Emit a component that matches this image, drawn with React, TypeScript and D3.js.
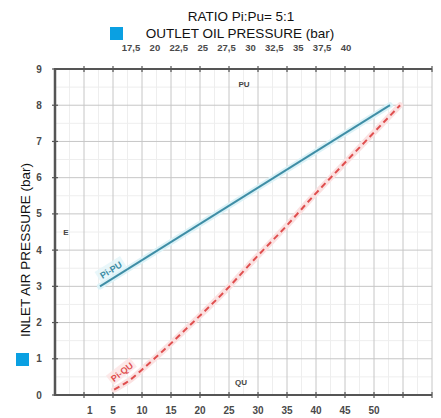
import React from 'react';
import * as d3 from 'd3';

const W = 441;
const H = 418;

const yTicks = [0, 1, 2, 3, 4, 5, 6, 7, 8, 9];
const bottomLabels = [1, 5, 10, 15, 20, 25, 30, 35, 40, 45, 50];
const topLabels = [17.5, 20, 22.5, 25, 27.5, 30, 32.5, 35, 37.5, 40];

// Pi-PU line (outlet oil pressure vs inlet air pressure)
const puValues = [15, 40];
const piForPu = [3, 8];

// Pi-QU curve (oil flow vs inlet air pressure)
const quValues = [5.2, 7.8, 10.7, 13.5, 18.1, 24.5, 29.7, 34.8, 39.3, 44.5, 49.7, 54.5];
const piForQu = [0.15, 0.4, 0.8, 1.2, 1.9, 2.9, 3.8, 4.65, 5.45, 6.33, 7.2, 8.0];

const gridCount = 13;

const fmtComma = (v: number) => String(v).replace('.', ',');

export default function App() {
  const left = 55, right = 432, top = 69, bottom = 395;
  const y = d3.scaleLinear().domain([0, 9]).range([bottom, top]);
  const gx = d3.scaleLinear().domain([0, gridCount]).range([left, right]);
  const qu = d3.scaleLinear().domain([0, 50]).range([gx(1), gx(11)]);
  const pu = d3.scaleLinear().domain([15, 40]).range([100, 390]);
  const topLabelScale = d3.scaleLinear().domain([17.5, 40]).range([131, 346]);

  const gridIdx = d3.range(0, gridCount + 1);
  const minorX = d3.range(0.5, gridCount, 1);
  const minorY = d3.range(0.5, 9, 1);

  const puPts: [number, number][] = puValues.map((v, i) => [pu(v), y(piForPu[i])]);
  const quPts: [number, number][] = quValues.map((v, i) => [qu(v), y(piForQu[i])]);
  const lineGen = d3.line<[number, number]>().x(d => d[0]).y(d => d[1]);
  const curveGen = d3.line<[number, number]>().x(d => d[0]).y(d => d[1]).curve(d3.curveMonotoneX);
  const puPath = lineGen(puPts) || '';
  const quPath = curveGen(quPts) || '';

  const puAngle = (Math.atan2(puPts[1][1] - puPts[0][1], puPts[1][0] - puPts[0][0]) * 180) / Math.PI;
  const numFont = "'Liberation Sans', Arial, sans-serif";
  const labelColor = '#4a4a4a';

  return (
    <svg width={W} height={H} style={{ position: 'absolute', left: 0, top: 0, background: '#fff' }}>
      {/* minor grid */}
      {minorX.map(i => (
        <line key={'mx' + i} x1={gx(i)} x2={gx(i)} y1={top} y2={bottom} stroke="#eeeeee" strokeWidth={1} />
      ))}
      {minorY.map(v => (
        <line key={'my' + v} x1={left} x2={right} y1={y(v)} y2={y(v)} stroke="#eeeeee" strokeWidth={1} />
      ))}
      {/* major grid */}
      {gridIdx.slice(1).map(i => (
        <line key={'gx' + i} x1={gx(i)} x2={gx(i)} y1={top} y2={bottom} stroke="#c6c6c6" strokeWidth={1} />
      ))}
      {yTicks.slice(1, 9).map(v => (
        <line key={'gy' + v} x1={left} x2={right} y1={y(v)} y2={y(v)} stroke="#c6c6c6" strokeWidth={1} />
      ))}

      {/* axes */}
      <line x1={left} x2={right} y1={top} y2={top} stroke="#555" strokeWidth={2} />
      <line x1={left} x2={right} y1={bottom} y2={bottom} stroke="#555" strokeWidth={2} />
      <line x1={left} x2={left} y1={top - 1} y2={bottom + 1} stroke="#555" strokeWidth={2.5} />
      {gridIdx.slice(1).map(i => (
        <g key={'tk' + i}>
          <line x1={gx(i)} x2={gx(i)} y1={top - 3} y2={top + 3} stroke="#555" strokeWidth={1.2} />
          <line x1={gx(i)} x2={gx(i)} y1={bottom - 3} y2={bottom + 3} stroke="#555" strokeWidth={1.2} />
        </g>
      ))}
      {yTicks.map(v => (
        <line key={'ytk' + v} x1={left - 3} x2={left + 3} y1={y(v)} y2={y(v)} stroke="#555" strokeWidth={1.2} />
      ))}

      {/* y labels */}
      {yTicks.map(v => (
        <text key={'yl' + v} x={39} y={y(v)} dy="0.35em" textAnchor="middle" fontSize={10} fontWeight="bold" fontFamily={numFont} fill={labelColor}>
          {v}
        </text>
      ))}
      {/* bottom labels */}
      {bottomLabels.map(v => (
        <text key={'bl' + v} x={qu(v)} y={414} textAnchor="middle" fontSize={10} fontWeight="bold" fontFamily={numFont} fill={labelColor}>
          {v}
        </text>
      ))}
      {/* top labels */}
      {topLabels.map(v => (
        <text key={'tl' + v} x={topLabelScale(v)} y={51} textAnchor="middle" fontSize={9.5} fontWeight="bold" fontFamily={numFont} fill={labelColor}>
          {fmtComma(v)}
        </text>
      ))}

      {/* halos */}
      <path d={puPath} fill="none" stroke="#dcf2f7" strokeWidth={6} strokeLinecap="round" />
      <path d={quPath} fill="none" stroke="#fbe1e1" strokeWidth={6} strokeLinecap="round" />
      {/* series */}
      <path d={puPath} fill="none" stroke="#3f8ea6" strokeWidth={2} />
      <path d={quPath} fill="none" stroke="#df4f4f" strokeWidth={2} strokeDasharray="6,4" />

      {/* series labels */}
      <g transform={`translate(${111},${270}) rotate(${puAngle})`}>
        <rect x={-15} y={-7} width={30} height={12} fill="#e3f5f9" opacity={0.8} />
        <text x={0} y={0} dy="0.35em" textAnchor="middle" fontSize={9} fontWeight="bold" fontFamily={numFont} fill="#3f8ea6">
          Pi-PU
        </text>
      </g>
      <g transform={`translate(${122},${372}) rotate(${-38})`}>
        <rect x={-15} y={-7} width={30} height={12} fill="#fde4e4" opacity={0.8} />
        <text x={0} y={0} dy="0.35em" textAnchor="middle" fontSize={9} fontWeight="bold" fontFamily={numFont} fill="#df4f4f">
          Pi-QU
        </text>
      </g>

      {/* area labels */}
      <text x={244} y={84} dy="0.35em" textAnchor="middle" fontSize={8} fontWeight="bold" fontFamily={numFont} fill="#444">PU</text>
      <text x={241} y={382} dy="0.35em" textAnchor="middle" fontSize={8} fontWeight="bold" fontFamily={numFont} fill="#444">QU</text>
      <text x={66} y={232} dy="0.35em" textAnchor="middle" fontSize={8} fontWeight="bold" fontFamily={numFont} fill="#444">E</text>

      {/* title and legends */}
      <text x={241} y={21} textAnchor="middle" fontSize={13.5} fontFamily="'Liberation Sans', Arial, sans-serif" fill="#111">
        RATIO Pi:Pu= 5:1
      </text>
      <rect x={110} y={27} width={13} height={13} fill="#0aa0e2" />
      <text x={240} y={38} textAnchor="middle" fontSize={13.5} fontFamily="'Liberation Sans', Arial, sans-serif" fill="#111">
        OUTLET OIL PRESSURE (bar)
      </text>
      <rect x={16} y={353} width={13} height={13} fill="#0aa0e2" />
      <text transform={`translate(${30},${250}) rotate(-90)`} textAnchor="middle" fontSize={13.5} fontFamily="'Liberation Sans', Arial, sans-serif" fill="#111">
        INLET AIR PRESSURE (bar)
      </text>
    </svg>
  );
}
